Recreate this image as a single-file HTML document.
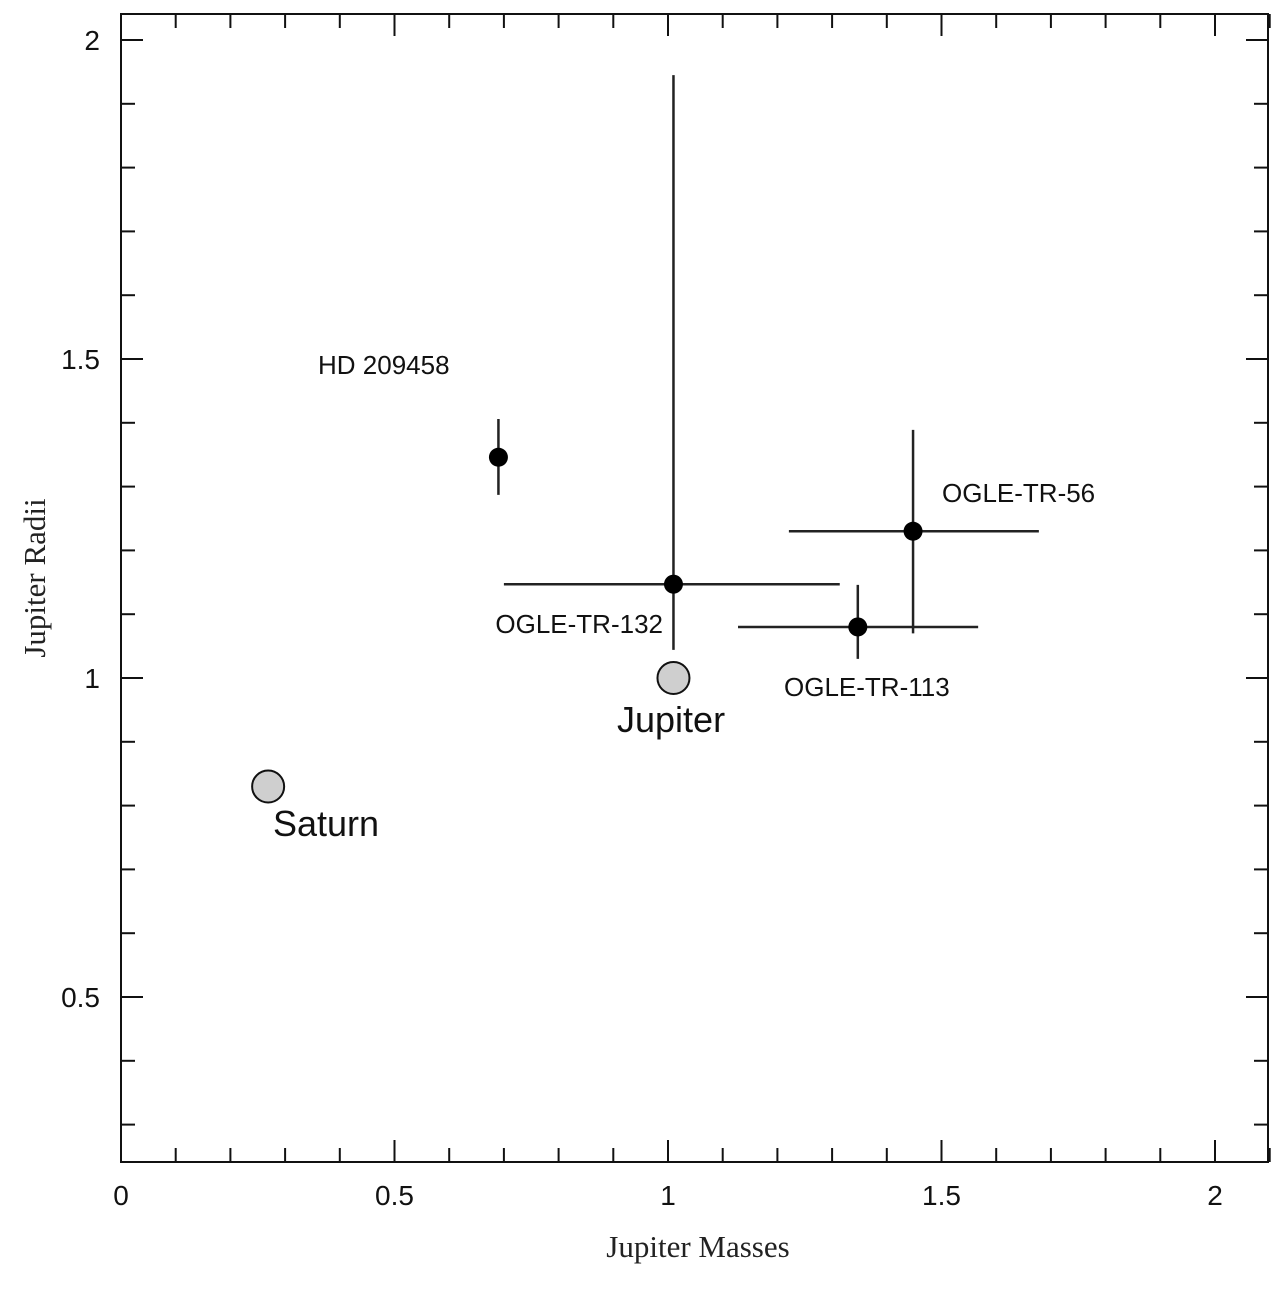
<!DOCTYPE html>
<html><head><meta charset="utf-8"><style>
html,body{margin:0;padding:0;background:#fff;width:1280px;height:1290px;overflow:hidden}
svg{display:block}
.t{font-family:"Liberation Sans",sans-serif;fill:#111}
.s{font-family:"Liberation Serif",serif;fill:#222}
</style></head><body>
<svg id="chart" width="1280" height="1290" xmlns="http://www.w3.org/2000/svg"></svg>
<script>
const planetNames = ["HD 209458","OGLE-TR-132","OGLE-TR-56","OGLE-TR-113"];
const massValues = [0.69, 1.01, 1.448, 1.347];
const radiusValues = [1.346, 1.147, 1.23, 1.08];
const massLow = [null, 0.70, 1.221, 1.128];
const massHigh = [null, 1.314, 1.678, 1.567];
const radiusLow = [1.287, 1.044, 1.07, 1.03];
const radiusHigh = [1.406, 1.945, 1.389, 1.146];
const refNames = ["Jupiter","Saturn"];
const refMass = [1.01, 0.269];
const refRadius = [1.0, 0.83];
const xTickLabels = ["0","0.5","1","1.5","2"];
const yTickLabels = ["0.5","1","1.5","2"];

const X0=121, XS=547, Y1=678, YS=638;
const xs = v => X0 + v*XS;
const ys = v => Y1 - (v-1)*YS;
const svg = document.getElementById('chart');
const NS = "http://www.w3.org/2000/svg";
function mk(tag, attrs, parent){const e=document.createElementNS(NS,tag);for(const k in attrs)e.setAttribute(k,attrs[k]);(parent||svg).appendChild(e);return e;}

const frame = mk('rect',{x:121,y:14,width:1147,height:1148,fill:'none',stroke:'#111','stroke-width':2});



// x ticks
for(let i=0;i<=21;i++){
  const v=i/10, x=xs(v), major=(i%5===0), L=major?22:14;
  const t1=mk('line',{x1:x,y1:1162,x2:x,y2:1162-L,stroke:'#111','stroke-width':2});
  
  
  const t2=mk('line',{x1:x,y1:14,x2:x,y2:14+L,stroke:'#111','stroke-width':2});
  
  
}
xTickLabels.forEach(s=>{
  const tx=mk('text',{x:xs(parseFloat(s)),y:1205,'text-anchor':'middle','font-size':28,class:'t'});
  tx.textContent=s;
  
  
});
// y ticks
for(let i=3;i<=20;i++){
  const v=i/10, y=ys(v), major=(i%5===0), L=major?22:14;
  const t1=mk('line',{x1:121,y1:y,x2:121+L,y2:y,stroke:'#111','stroke-width':2});
  
  
  const t2=mk('line',{x1:1268,y1:y,x2:1268-L,y2:y,stroke:'#111','stroke-width':2});
  
  
}
yTickLabels.forEach(s=>{
  const tx=mk('text',{x:100,y:ys(parseFloat(s))+10,'text-anchor':'end','font-size':28,class:'t'});
  tx.textContent=s;
  
  
});
const xt=mk('text',{x:698,y:1257,'text-anchor':'middle','font-size':31,class:'s'});
xt.textContent='Jupiter Masses';


const yt=mk('text',{x:0,y:0,'text-anchor':'middle','font-size':31,class:'s',transform:'translate(45,578) rotate(-90)'});
yt.textContent='Jupiter Radii';



// planets
const labelPos=[[318,374,'start'],[663,633,'end'],[942,502,'start'],[784,696,'start']];
planetNames.forEach((n,i)=>{
  const g=mk('g',{});
  
  
  const cx=xs(massValues[i]), cy=ys(radiusValues[i]);
  const ev=mk('line',{x1:cx,y1:ys(radiusLow[i]),x2:cx,y2:ys(radiusHigh[i]),stroke:'#222','stroke-width':2.5},g);
  
  
  if(massLow[i]!==null){
    const eh=mk('line',{x1:xs(massLow[i]),y1:cy,x2:xs(massHigh[i]),y2:cy,stroke:'#222','stroke-width':2.5},g);
    
    
  }
  const c=mk('circle',{cx:cx,cy:cy,r:9.5,fill:'#000'},g);
  
  
  const p=labelPos[i];
  const t=mk('text',{x:p[0],y:p[1],'text-anchor':p[2],'font-size':26,class:'t'},g);
  t.textContent=n;
  
  
});
const refLabel=[[617,732],[273,836]];
refNames.forEach((n,i)=>{
  const cx=xs(refMass[i]), cy=ys(refRadius[i]);
  const c=mk('circle',{cx:cx,cy:cy,r:16,fill:'#cfcfcf',stroke:'#111','stroke-width':2});
  
  
  const t=mk('text',{x:refLabel[i][0],y:refLabel[i][1],'font-size':36,class:'t'});
  t.textContent=n;
  
  
});
</script>
</body></html>
